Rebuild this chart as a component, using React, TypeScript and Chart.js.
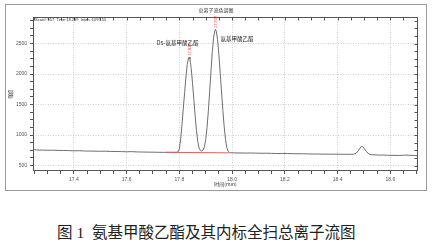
import React, { useEffect, useRef } from 'react';
import { Chart, registerables } from 'chart.js';

Chart.register(...registerables);

// ---- data ----
const times = [
  17.245, 17.25, 17.26, 17.27, 17.28, 17.3, 17.32, 17.34, 17.36, 17.38, 17.4, 17.42, 17.44, 17.46, 17.48,
  17.5, 17.52, 17.54, 17.56, 17.58, 17.6, 17.62, 17.64, 17.66, 17.68, 17.7, 17.72, 17.74, 17.76, 17.78, 17.79,
  17.795, 17.8, 17.805, 17.81, 17.815, 17.82, 17.825, 17.83, 17.835, 17.837, 17.84, 17.845, 17.85, 17.855,
  17.86, 17.865, 17.87, 17.875, 17.88, 17.885, 17.89, 17.895, 17.9, 17.905, 17.91, 17.915, 17.92, 17.925,
  17.93, 17.935, 17.937, 17.94, 17.945, 17.95, 17.955, 17.96, 17.965, 17.97, 17.975, 17.98, 17.985, 17.99, 17.995,
  18.01, 18.03, 18.05, 18.07, 18.09, 18.11, 18.13, 18.15, 18.17, 18.19, 18.21, 18.23, 18.25, 18.27, 18.29,
  18.31, 18.33, 18.35, 18.37, 18.39, 18.41, 18.43, 18.45, 18.46, 18.47, 18.48, 18.49, 18.495, 18.5, 18.51,
  18.52, 18.53, 18.55, 18.56, 18.57, 18.59, 18.61, 18.63, 18.65, 18.66, 18.67, 18.69, 18.705,
];
const intensities = [
  770, 762, 755, 752, 753, 750, 751, 748, 746, 745, 741, 743, 738, 737, 735,
  734, 734, 731, 730, 728, 726, 727, 723, 721, 720, 719, 717, 716, 716, 717, 718,
  724, 770, 930, 1170, 1440, 1700, 1950, 2160, 2265, 2278, 2245, 2090, 1850, 1580,
  1310, 1070, 890, 785, 745, 738, 752, 805, 925, 1125, 1400, 1720, 2050, 2370,
  2600, 2720, 2732, 2705, 2565, 2315, 2015, 1705, 1405, 1135, 925, 795, 735, 714, 709,
  707, 706, 704, 705, 703, 701, 702, 699, 697, 698, 696, 694, 693, 692, 690,
  689, 688, 687, 686, 686, 685, 684, 684, 685, 698, 750, 812, 810, 785, 725,
  688, 676, 674, 670, 672, 668, 667, 665, 669, 671, 668, 664, 663,
];
const baselineTimes = [17.75, 17.99];
const baselineValues = [716, 708];
const peakTimes = [17.837, 17.937];
const peakIntensities = [2278, 2732];
const peakRtLabels = ['17.836', '17.937'];
const peakNames = ['D5-氨基甲酸乙酯', '氨基甲酸乙酯'];
const xRange = [17.245, 18.705];
const yRange = [410, 2936];
const xTickRange = [17.25, 18.7];
const yTickRange = [500, 2875];
const xMinorStep = 0.05;
const xMajorStep = 0.2;
const yMinorStep = 125;
const yMajorStep = 500;
const chartTitle = '总离子流色谱图';
const scanInfo = 'Scan#:957  Time:18.289  Inten.:1095.55';
const xTitle = '时间(min)';
const yTitle = '强度';
const caption = '图 1  氨基甲酸乙酯及其内标全扫总离子流图';

const isMultiple = (v: number, step: number) => Math.abs(v / step - Math.round(v / step)) < 1e-6;
const tickList = (from: number, to: number, step: number) => {
  const out: { value: number }[] = [];
  const n = Math.round((to - from) / step);
  for (let k = 0; k <= n; k++) out.push({ value: Math.round((from + k * step) * 1000) / 1000 });
  return out;
};

const AXIS = '#555';

const framePlugin = {
  id: 'frame',
  afterDatasetsDraw(chart: any) {
    const { ctx, chartArea: a, scales } = chart;
    ctx.save();
    ctx.strokeStyle = AXIS;
    ctx.lineWidth = 1;
    const l = Math.round(a.left) + 0.5;
    const r = Math.round(a.right) - 0.5;
    const t = Math.round(a.top) + 0.5;
    const b = Math.round(a.bottom) - 0.5;
    ctx.strokeRect(l, t, r - l, b - t);
    ctx.beginPath();
    for (const tk of scales.x.ticks) {
      const px = Math.round(scales.x.getPixelForValue(tk.value)) + 0.5;
      ctx.moveTo(px, t);
      ctx.lineTo(px, t + 3);
    }
    for (const tk of scales.y.ticks) {
      const py = Math.round(scales.y.getPixelForValue(tk.value)) + 0.5;
      ctx.moveTo(r, py);
      ctx.lineTo(r - 3, py);
    }
    ctx.stroke();
    ctx.restore();
  },
};

const textPlugin = {
  id: 'texts',
  afterDraw(chart: any) {
    const { ctx, chartArea, scales } = chart;
    const xs = scales.x;
    const ys = scales.y;
    ctx.save();
    ctx.fillStyle = '#333';
    ctx.textBaseline = 'middle';
    ctx.font = '5px "Noto Sans CJK SC", sans-serif';
    ctx.textAlign = 'center';
    ctx.fillText(chartTitle, chart.width / 2, 10);
    ctx.font = '4px "Liberation Sans", sans-serif';
    ctx.textAlign = 'left';
    ctx.fillText(scanInfo, chartArea.left + 2, chartArea.top + 3);
    ctx.font = '5px "Noto Sans CJK SC", sans-serif';
    ctx.textAlign = 'center';
    ctx.fillText(xTitle, (chartArea.left + chartArea.right) / 2, chartArea.bottom + 13);
    ctx.save();
    ctx.translate(10, (chartArea.top + chartArea.bottom) / 2);
    ctx.rotate(-Math.PI / 2);
    ctx.font = '4.5px "Noto Sans CJK SC", sans-serif';
    ctx.fillText(yTitle, 0, 0);
    ctx.restore();
    for (let i = 0; i < peakTimes.length; i++) {
      const px = xs.getPixelForValue(peakTimes[i]);
      const py = ys.getPixelForValue(peakIntensities[i]);
      ctx.save();
      ctx.translate(px + 0.5, py - 1.5);
      ctx.rotate(-Math.PI / 2);
      ctx.fillStyle = '#e03c3c';
      ctx.font = '4px "Liberation Sans", sans-serif';
      ctx.textAlign = 'left';
      ctx.fillText(peakRtLabels[i], 0, 0);
      ctx.restore();
      ctx.fillStyle = '#222';
      ctx.font = '5.5px "Noto Sans CJK SC", sans-serif';
      if (i === 0) {
        ctx.textAlign = 'center';
        ctx.fillText(peakNames[i], px - 11.5, py - 14);
      } else {
        ctx.textAlign = 'left';
        ctx.fillText(peakNames[i], px + 5, py + 9);
      }
    }
    ctx.restore();
  },
};

export default function App() {
  const ref = useRef<HTMLCanvasElement>(null);

  useEffect(() => {
    const canvas = ref.current;
    if (!canvas) return;
    const trace = times.map((t, i) => ({ x: t, y: intensities[i] }));
    const base = baselineTimes.map((t, i) => ({ x: t, y: baselineValues[i] }));
    const tickFont = { family: '"Liberation Sans", Arial, sans-serif', size: 5 };
    const gridColor = '#cfcfcf';

    const chart = new Chart(canvas, {
      type: 'scatter',
      data: {
        datasets: [
          { data: base, showLine: true, borderColor: '#e06060', borderWidth: 1, pointRadius: 0 },
          { data: trace, showLine: true, borderColor: '#6e6e6e', borderWidth: 1, pointRadius: 0, tension: 0 },
        ],
      },
      options: {
        animation: false,
        responsive: false,
        devicePixelRatio: 1,
        layout: { padding: { left: 0, top: 17, right: 14, bottom: 0 } },
        plugins: { legend: { display: false }, tooltip: { enabled: false }, title: { display: false } },
        scales: {
          x: {
            type: 'linear',
            position: 'bottom',
            min: xRange[0],
            max: xRange[1],
            bounds: 'data',
            afterBuildTicks: (s: any) => { s.ticks = tickList(xTickRange[0], xTickRange[1], xMinorStep); },
            afterFit: (s: any) => { s.height = 29; },
            ticks: {
              autoSkip: false,
              maxRotation: 0,
              minRotation: 0,
              padding: 3,
              color: '#555',
              font: tickFont,
              callback: (v: any) => (isMultiple(Number(v), xMajorStep) ? Number(v).toFixed(1) : ''),
            },
            grid: {
              color: (c: any) => (c.tick && isMultiple(c.tick.value, xMajorStep) ? gridColor : 'rgba(0,0,0,0)'),
              tickColor: AXIS,
              tickLength: 3,
              lineWidth: 1,
            },
            border: { display: false, dash: [1, 1.5] },
          },
          y: {
            type: 'linear',
            position: 'left',
            min: yRange[0],
            max: yRange[1],
            bounds: 'data',
            afterBuildTicks: (s: any) => { s.ticks = tickList(yTickRange[0], yTickRange[1], yMinorStep); },
            afterFit: (s: any) => { s.width = 33; },
            ticks: {
              autoSkip: false,
              padding: 3,
              color: '#555',
              font: tickFont,
              callback: (v: any) => (isMultiple(Number(v), yMajorStep) ? String(v) : ''),
            },
            grid: {
              color: (c: any) => (c.tick && isMultiple(c.tick.value, yMajorStep) ? gridColor : 'rgba(0,0,0,0)'),
              tickColor: AXIS,
              tickLength: 3,
              lineWidth: 1,
            },
            border: { display: false, dash: [1, 1.5] },
          },
        },
      } as any,
      plugins: [framePlugin, textPlugin],
    });
    return () => chart.destroy();
  }, []);

  return (
    <div style={{ position: 'absolute', left: 0, top: 0, width: 432, height: 249, background: '#fff' }}>
      <div
        style={{
          position: 'absolute',
          left: 5,
          top: 4,
          width: 422,
          height: 187,
          border: '1px solid #9a9a9a',
          boxSizing: 'border-box',
        }}
      />
      <canvas
        ref={ref}
        width={432}
        height={200}
        style={{ position: 'absolute', left: 0, top: 0, width: 432, height: 200 }}
      />
      <div
        style={{
          position: 'absolute',
          left: 57,
          top: 225,
          whiteSpace: 'pre',
          fontFamily: '"Liberation Serif", "Noto Sans CJK SC", serif',
          fontSize: '15.5px',
          lineHeight: '16px',
          color: '#222',
        }}
      >
        {caption}
      </div>
    </div>
  );
}
